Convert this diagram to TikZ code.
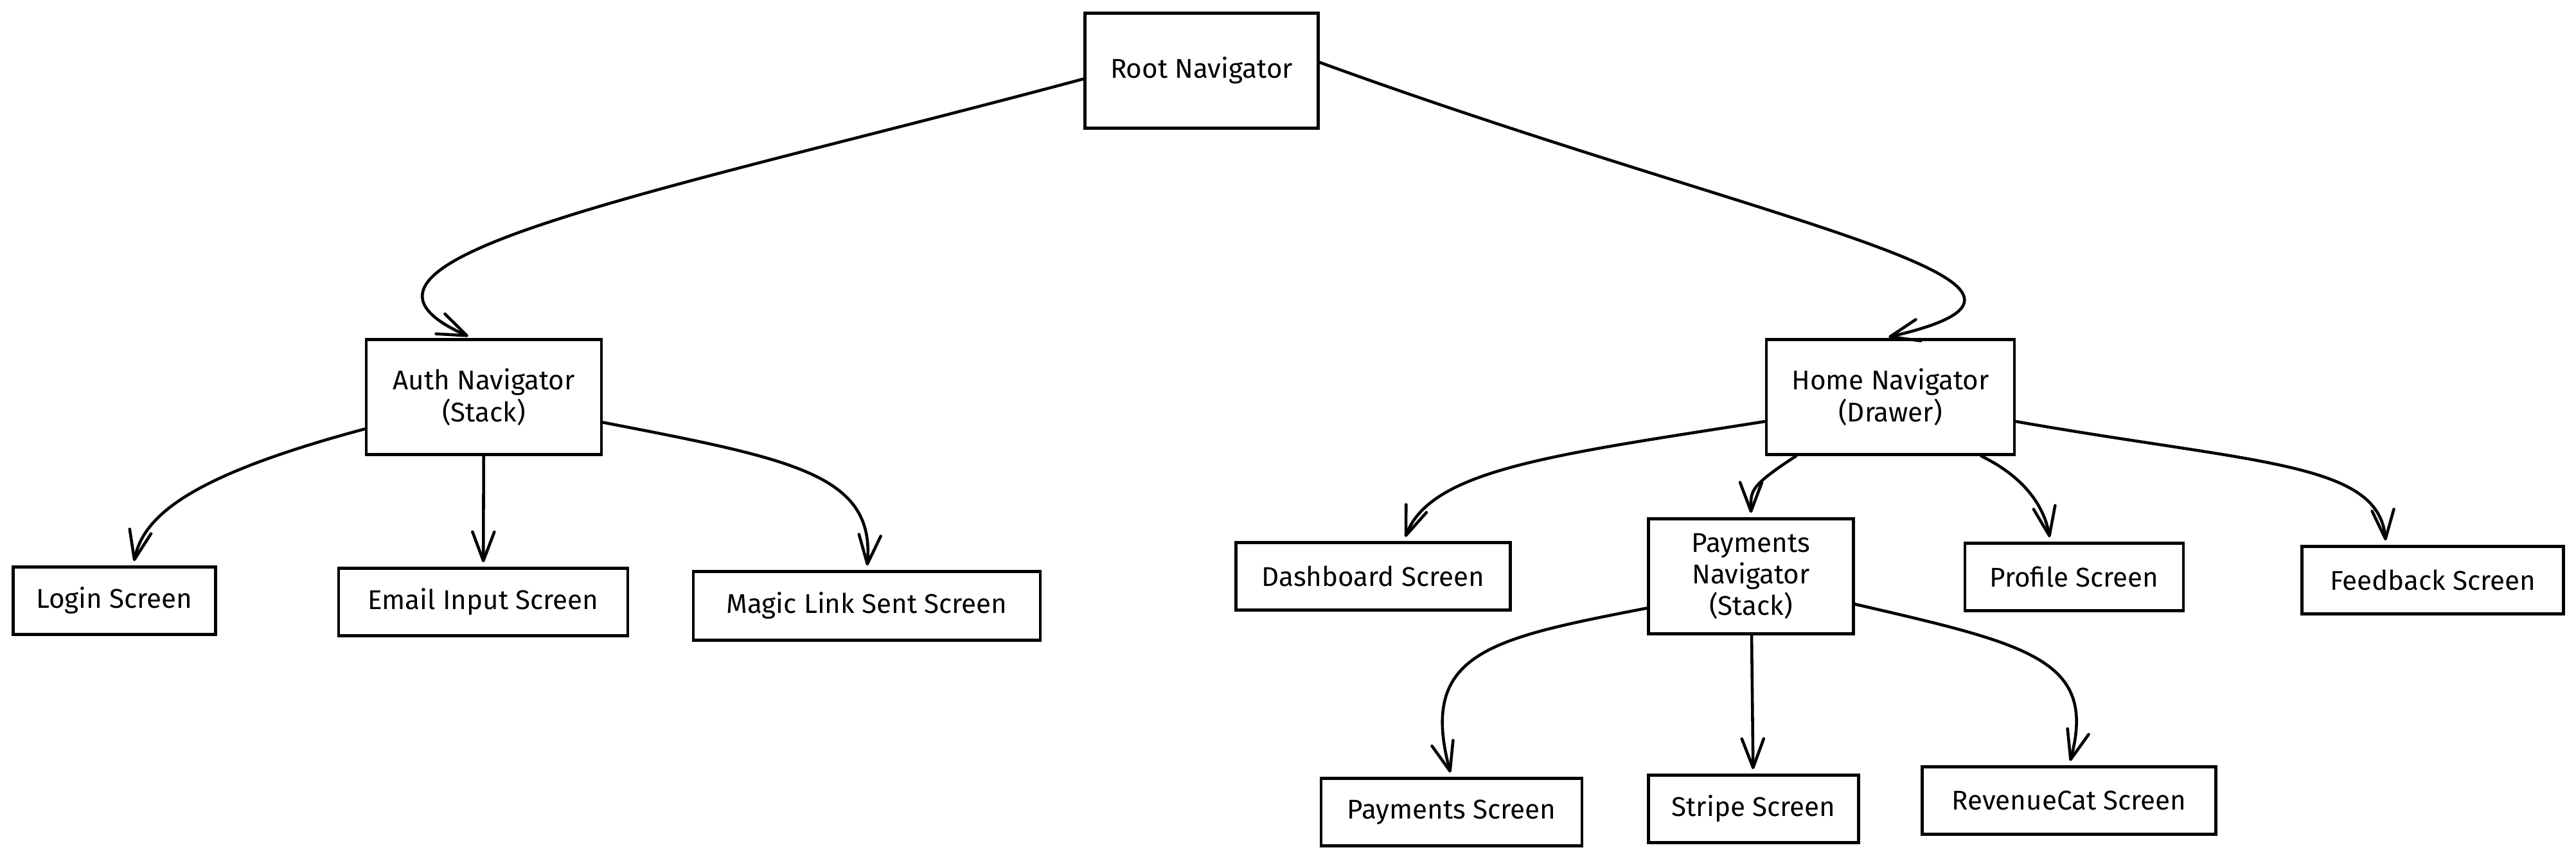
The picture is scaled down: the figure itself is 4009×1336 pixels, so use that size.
\documentclass[tikz,border=0pt]{standalone}
\usepackage{fontspec}
\setmainfont{Fira Sans}
\usetikzlibrary{positioning,arrows.meta}

\begin{document}
\begin{tikzpicture}[
  x=0.01cm, y=0.01cm,
  font=\fontsize{12}{14}\selectfont,
  box/.style={draw, line width=1.3pt, align=center, inner sep=0pt},
  nav/.style={box, minimum height=1.79cm},
  screen/.style={box, minimum height=1.05cm},
  >={Straight Barb[length=4.5mm, width=3.4mm, round]},
  link/.style={->, line width=1.3pt, shorten >=2pt, line cap=round},
]
  \useasboundingbox (0,0) rectangle (4009,-1336);
  % navigators
  \node[nav, minimum width=3.63cm] (root) at (1870,-110) {Root Navigator};
  \node[nav, minimum width=3.66cm] (auth) at (753,-618) {Auth Navigator\\(Stack)};
  \node[nav, minimum width=3.86cm] (home) at (2942,-618) {Home Navigator\\(Drawer)};
  \node[nav, minimum width=3.19cm] (paynav) at (2725,-897) {Payments\\Navigator\\(Stack)};
  % auth screens
  \node[screen, minimum width=3.15cm] (login) at (178,-935) {Login Screen};
  \node[screen, minimum width=4.50cm] (email) at (752,-937) {Email Input Screen};
  \node[screen, minimum width=5.40cm, minimum height=1.07cm] (magic) at (1349,-943) {Magic Link Sent Screen};
  % home screens
  \node[screen, minimum width=4.27cm] (dash) at (2137,-897) {Dashboard Screen};
  \node[screen, minimum width=3.40cm] (profile) at (3228,-898) {Profile Screen};
  \node[screen, minimum width=4.07cm] (feedback) at (3786,-903) {Feedback Screen};
  % payment screens
  \node[screen, minimum width=4.06cm] (payscr) at (2259,-1264) {Payments Screen};
  \node[screen, minimum width=3.27cm] (stripe) at (2729,-1259) {Stripe Screen};
  \node[screen, minimum width=4.57cm] (revcat) at (3220,-1246) {RevenueCat Screen};
  % connectors
  \draw[link] (root.184) .. controls +(195:700) and +(156:300) .. (auth.101);
  \draw[link] (root.4) .. controls +(-20:750) and +(13:380) .. (home.96);
  \draw[link] (auth.195) .. controls +(195:280) and +(78:80) .. (login.62);
  \draw[link] (auth) -- (email);
  \draw[link] (auth.-12) .. controls +(-11:300) and +(85:150) .. (magic.north);
  \draw[link] (home.191) .. controls +(189:330) and +(69:120) .. (dash.49);
  \draw[link] (home.212) .. controls +(213:90) and +(90:40) .. (paynav.north);
  \draw[link] (home.-33) .. controls +(-26:70) and +(100:60) .. (profile.124);
  \draw[link] (home.-11) .. controls +(-10:380) and +(95:130) .. (feedback.143);
  \draw[link] (paynav.197) .. controls +(191:250) and +(105:200) .. (payscr.north);
  \draw[link] (paynav) -- (stripe);
  \draw[link] (paynav.-15) .. controls +(-13:280) and +(75:170) .. (revcat.north);
\end{tikzpicture}
\end{document}
